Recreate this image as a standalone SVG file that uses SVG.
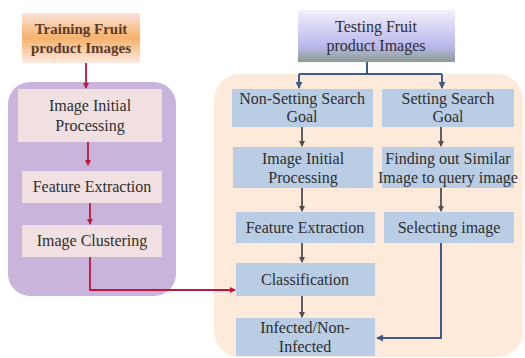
<svg xmlns="http://www.w3.org/2000/svg" width="525" height="358" viewBox="0 0 525 358">
<style>
text{font-family:"Liberation Serif","DejaVu Serif",serif;font-size:16px;fill:#2e2e2e;text-anchor:middle}
.tr{font-weight:bold;font-size:15px;fill:#5a3a2a}
.pk{fill:#f1e0e1}
.bl{fill:#b9cde5}
.red{stroke:#c0163c;stroke-width:1.8;fill:none}
.dk{stroke:#505050;stroke-width:1.8;fill:none}
.bn{stroke:#3f5b86;stroke-width:2;fill:none}
</style>
<defs>
<linearGradient id="gOr" x1="0" y1="0" x2="0" y2="1">
<stop offset="0" stop-color="#fbe3da"/>
<stop offset="0.5" stop-color="#f6b26b"/>
<stop offset="1" stop-color="#fde9df"/>
</linearGradient>
<linearGradient id="gBl" x1="0" y1="0" x2="0" y2="1">
<stop offset="0" stop-color="#f3f0fb"/>
<stop offset="0.7" stop-color="#b9b8ec"/>
<stop offset="1" stop-color="#8d9c8e"/>
</linearGradient>
<marker id="aR" markerWidth="6" markerHeight="6" refX="5" refY="3" orient="auto" markerUnits="userSpaceOnUse"><path d="M0,0L6,3L0,6z" fill="#c0163c"/></marker>
<marker id="aD" markerWidth="6" markerHeight="6" refX="5" refY="3" orient="auto" markerUnits="userSpaceOnUse"><path d="M0,0L6,3L0,6z" fill="#505050"/></marker>
<marker id="aB" markerWidth="7" markerHeight="7" refX="6" refY="3.5" orient="auto" markerUnits="userSpaceOnUse"><path d="M0,0L7,3.5L0,7z" fill="#3f5b86"/></marker>
</defs>
<rect x="0" y="0" width="525" height="358" fill="#ffffff"/>
<g id="trainGroup"><rect x="8" y="82" width="168" height="214" rx="22" fill="#c9b5dc"/></g>
<g id="testGroup"><rect x="214" y="74" width="309" height="283" rx="26" fill="#fdeadb"/></g>
<g id="training"><rect x="22" y="13" width="118" height="50" fill="url(#gOr)"/><text class="tr" x="81" y="34">Training Fruit</text><text class="tr" x="81" y="53">product Images</text></g>
<g id="l_iip"><rect class="pk" x="18" y="89" width="144" height="53"/><text x="90" y="111">Image Initial</text><text x="90" y="131">Processing</text></g>
<g id="l_fe"><rect class="pk" x="22" y="171" width="140" height="32"/><text x="92" y="192">Feature  Extraction</text></g>
<g id="l_ic"><rect class="pk" x="22" y="225" width="140" height="32"/><text x="92" y="246">Image Clustering</text></g>
<g id="testing"><rect x="298" y="10" width="157" height="52" fill="url(#gBl)"/><text x="376" y="32">Testing Fruit</text><text x="376" y="51">product Images</text></g>
<g id="nssg"><rect class="bl" x="232" y="89" width="141" height="38"/><text x="302" y="104">Non-Setting Search</text><text x="302" y="122">Goal</text></g>
<g id="ssg"><rect class="bl" x="382" y="89" width="132" height="38"/><text x="448" y="104">Setting Search</text><text x="448" y="122">Goal</text></g>
<g id="r_iip"><rect class="bl" x="233" y="147" width="140" height="41"/><text x="303" y="164">Image Initial</text><text x="303" y="183">Processing</text></g>
<g id="fos"><rect class="bl" x="382" y="147" width="132" height="41"/><text x="448" y="164">Finding out Similar</text><text x="448" y="183">Image to query image</text></g>
<g id="r_fe"><rect class="bl" x="236" y="212" width="139" height="31"/><text x="305" y="233">Feature Extraction</text></g>
<g id="sel"><rect class="bl" x="384" y="212" width="130" height="31"/><text x="449" y="233">Selecting image</text></g>
<g id="cls"><rect class="bl" x="236" y="263" width="139" height="33"/><text x="305" y="285">Classification</text></g>
<g id="inf"><rect class="bl" x="236" y="318" width="139" height="38"/><text x="305" y="333">Infected/Non-</text><text x="305" y="352">Infected</text></g>
<g id="connectors">
<path class="red" d="M86,63V88" marker-end="url(#aR)"/>
<path class="red" d="M88,142V165" marker-end="url(#aR)"/>
<path class="red" d="M90,203V224" marker-end="url(#aR)"/>
<path class="red" d="M90,257V290H235" marker-end="url(#aR)"/>
<path class="bn" d="M367,62V74"/>
<path class="bn" d="M299,74H442"/>
<path class="bn" d="M299,74V88" marker-end="url(#aB)"/>
<path class="bn" d="M442,74V88" marker-end="url(#aB)"/>
<path class="dk" d="M302,127V146" marker-end="url(#aD)"/>
<path class="dk" d="M441,127V146" marker-end="url(#aD)"/>
<path class="dk" d="M302,188V211" marker-end="url(#aD)"/>
<path class="dk" d="M441,188V211" marker-end="url(#aD)"/>
<path class="dk" d="M302,243V262" marker-end="url(#aD)"/>
<path class="dk" d="M302,296V317" marker-end="url(#aD)"/>
<path class="bn" d="M441,243V338H377" marker-end="url(#aB)"/>
</g>
</svg>
